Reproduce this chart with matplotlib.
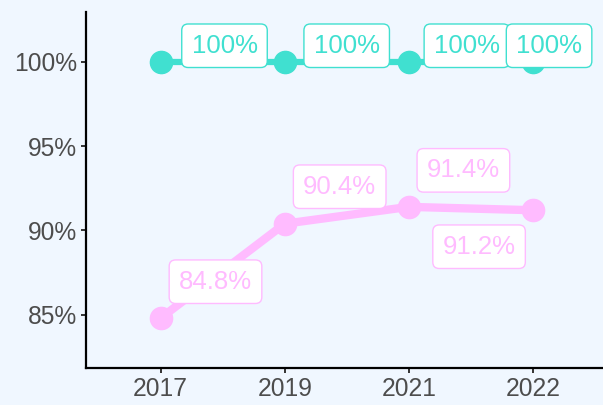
import matplotlib.pyplot as plt

years = ['2017', '2019', '2021', '2022']
teal_values = [100.0, 100.0, 100.0, 100.0]
pink_values = [84.8, 90.4, 91.4, 91.2]
y_ticks = [85, 90, 95, 100]

teal = '#40E0D0'
pink = '#FFBBFF'
bg = '#F0F7FF'

plt.rcParams['font.family'] = ['Liberation Sans', 'DejaVu Sans']

fig = plt.figure(figsize=(6.03, 4.05), dpi=100, facecolor=bg)
ax = fig.add_axes([0.1426, 0.0914, 0.865, 0.8786], facecolor=bg)

x = list(range(1, len(years) + 1))

ax.plot(x, teal_values, color=teal, lw=4.5, marker='o', markersize=16,
        solid_capstyle='butt', zorder=3, clip_on=False)
ax.plot(x, pink_values, color=pink, lw=6, marker='o', markersize=16,
        solid_capstyle='butt', zorder=3, clip_on=False)

# label offsets in pixels (dx, dy), converted to points
teal_off = [(64, 16), (62, 16), (58, 16), (16, 16)]
pink_off = [(55, 36.5), (55, 37), (54.5, 36.5), (-54, -36.5)]


def put_labels(vals, offs, col):
    for xi, v, (dx, dy) in zip(x, vals, offs):
        ax.annotate(f'{v:g}%', (xi, v), xytext=(dx * 0.72, dy * 0.72),
                    textcoords='offset points', ha='center', va='center',
                    fontsize=18.5, color=col, zorder=5,
                    bbox=dict(boxstyle='round,pad=0.38,rounding_size=0.25',
                              fc='white', ec=col, lw=1.0))


put_labels(teal_values, teal_off, teal)
put_labels(pink_values, pink_off, pink)

ax.set_xlim(0.4, 4.6)
ax.set_ylim(81.85, 102.94)
ax.set_xticks(x)
ax.set_xticklabels(years)
ax.set_yticks(y_ticks)
ax.set_yticklabels([f'{t}%' for t in y_ticks])

for s in ['top', 'right']:
    ax.spines[s].set_visible(False)
for s in ['left', 'bottom']:
    ax.spines[s].set_color('black')
    ax.spines[s].set_linewidth(1.6)

ax.tick_params(axis='both', colors='#333333', labelcolor='#4D4D4D',
               labelsize=17.7, length=3.5, width=1.4, pad=3)

fig.savefig('out.png', dpi=100, facecolor=bg)
